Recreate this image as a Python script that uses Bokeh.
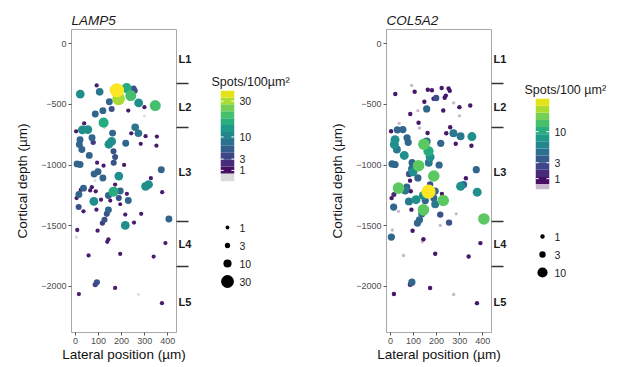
import math
import numpy as np
from bokeh.plotting import figure
from bokeh.models import (Range1d, FactorRange, LinearAxis, CategoricalAxis, FixedTicker,
                          LinearColorMapper, ColumnDataSource)
from bokeh.layouts import row, column
from bokeh.palettes import Viridis256
from bokeh.embed import file_html
from bokeh.resources import INLINE

FONT = "Liberation Sans"

# ---------------- data ----------------
lateral_um = [92, 180, 162, 187, 222, 240, 252, 257, 21, 105, 274, 346, 299, 147, 198, 235,
              229, 157, 119, 86, 299, 122, 126, 38, 3, 30, 54, 259, 273, 304, 353, 242,
              161, 72, 157, 145, 218, 283, 351, 20, 17, 28, 77, 165, 60, 172, 166, 7,
              20, 94, 122, 211, 92, 98, 188, 372, 327, 81, 119, 85, 304, 317, 172, 165,
              143, 194, 188, 223, 229, 35, 15, 23, 64, 71, 88, 5, 80, 111, 151, 194,
              14, 35, 91, 143, 136, 216, 285, 126, 117, 216, 254, 405, 8, 4, 96, 143,
              138, 390, 57, 194, 339, 93, 86, 15, 172, 274, 375, 376]
depth_um = [-343, -383, -378, -453, -365, -427, -368, -387, -414, -396, -487, -509, -522, -478, -447, -445,
            -550, -537, -551, -578, -594, -650, -694, -656, -721, -709, -707, -688, -737, -762, -765, -738,
            -736, -775, -805, -828, -820, -824, -840, -790, -830, -871, -812, -885, -920, -934, -981, -990,
            -995, -980, -1005, -999, -1030, -1055, -1090, -1038, -1108, -1073, -1106, -1128, -1175, -1160, -1160, -1219,
            -1250, -1214, -1272, -1237, -1292, -1190, -1243, -1205, -1209, -1182, -1216, -1272, -1299, -1285, -1292, -1322,
            -1346, -1381, -1367, -1369, -1402, -1408, -1402, -1451, -1478, -1497, -1474, -1444, -1535, -1593, -1541, -1612,
            -1632, -1643, -1745, -1731, -1754, -1965, -1985, -2063, -2013, -2066, -2138, -1223]
lamp5 = [1.5, 38, 4.5, 30, 17, 21, 4.5, 4.5, 12, 8.5, 12, 21, 1.5, 6.5, 4.5, 3,
         1.5, 4.5, 6.5, 6.5, 0.3, 17, 0.3, 1.5, 1.5, 12, 12, 8.5, 8.5, 1.5, 1.5, 1.5,
         6.5, 6.5, 12, 12, 6.5, 1.5, 1.5, 6.5, 6.5, 6.5, 3, 4.5, 6.5, 4.5, 4.5, 6.5,
         6.5, 1.5, 1.5, 1.5, 0.3, 6.5, 12, 6.5, 1.5, 6.5, 6.5, 0.3, 12, 12, 1.5, 17,
         6.5, 6.5, 4.5, 1.5, 6.5, 6.5, 6.5, 1.5, 1.5, 1.5, 1.5, 1.5, 12, 1.5, 1.5, 1.0,
         4.5, 1.5, 1.5, 6.5, 4.5, 1.5, 1.5, 4.5, 3, 12, 1.5, 6.5, 1.5, 0.5, 1.5, 1.5,
         1.5, 1.5, 1.5, 1.5, 1.5, 4.5, 3, 1.5, 1.5, 0.3, 1.5, 1.5]
col5a2 = [0.35, 1.0, 1.0, 1.0, 1.0, 1.0, 1.0, 1.0, 1.0, 1.0, 0.35, 1.0, 1.0, 1.0, 3.0, 1.0,
          1.0, 4.2, 0.35, 1.0, 0.35, 1.0, 0.35, 0.35, 1.0, 4.2, 4.2, 1.0, 5.4, 5.4, 7.4, 1.0,
          1.0, 4.2, 5.4, 13.7, 4.2, 1.0, 1.0, 7.4, 7.4, 5.4, 4.2, 10.2, 7.4, 7.4, 5.4, 4.2,
          4.2, 4.2, 13.7, 4.2, 4.2, 7.4, 13.7, 4.2, 1.0, 3.0, 4.2, 1.0, 7.4, 4.2, 3.0, 22,
          7.4, 4.2, 4.2, 1.0, 13.7, 13.7, 1.5, 1.0, 5.4, 4.2, 1.0, 1.0, 5.4, 7.4, 4.2, 5.4,
          4.2, 0.35, 1.0, 13.7, 4.2, 3.0, 0.35, 4.2, 4.2, 0.35, 3.0, 13.7, 0.35, 4.2, 1.0, 1.0,
          0.35, 1.0, 0.35, 1.0, 1.0, 4.2, 1.5, 1.0, 1.0, 0.35, 1.0, 7.4]

layer_names = ["L1", "L2", "L3", "L4", "L5"]
layer_label_depth = [-129, -522, -1058, -1653, -2128]
layer_boundaries = [-329, -687, -1461, -1840]

x_ticks = [0, 100, 200, 300, 400]
y_ticks = [0, -500, -1000, -1500, -2000]

lamp5_legend = [1, 3, 10, 30]
col5a2_legend = [1, 3, 10]

# colour scale limits (sqrt scale)
lamp5_scale = dict(bar_low=0.08, col_low=0.64, high=38.0, low_color="#dadada")
col5a2_scale = dict(bar_low=0.25, col_low=0.56, high=22.0, low_color="#c9b6cf")


def size_of(v, vmax):
    return 1.8 + 12.4 * np.sqrt(np.asarray(v, dtype=float) / vmax)


def make_mapper(sc):
    return LinearColorMapper(palette=Viridis256, low=math.sqrt(sc["col_low"]),
                             high=math.sqrt(sc["high"]), low_color=sc["low_color"])


def main_panel(name, values, sc):
    vals = np.asarray(values, dtype=float)
    order = np.argsort(vals, kind="stable")
    src = ColumnDataSource(dict(
        x=np.asarray(lateral_um)[order], y=np.asarray(depth_um)[order],
        s=np.sqrt(vals)[order], size=size_of(vals, sc["high"])[order]))
    mapper = make_mapper(sc)
    p = figure(width=205, height=367, x_range=Range1d(-17, 438), y_range=Range1d(-2380, 118),
               toolbar_location=None, output_backend="svg",
               min_border_left=71, min_border_right=29, min_border_top=29, min_border_bottom=35)
    p.scatter("x", "y", size="size", source=src,
              fill_color={"field": "s", "transform": mapper}, line_color=None)
    p.grid.visible = False
    p.outline_line_color = "#a8a8a8"
    p.outline_line_width = 1
    p.title.text = name
    p.title.text_font = FONT
    p.title.text_font_style = "italic"
    p.title.text_font_size = "13.5px"
    p.title.text_color = "#1a1a1a"
    p.title.standoff = 3
    p.title.align = "left"
    p.xaxis.ticker = FixedTicker(ticks=x_ticks)
    p.yaxis.ticker = FixedTicker(ticks=y_ticks)
    p.xaxis.axis_label = "Lateral position (µm)"
    p.yaxis.axis_label = "Cortical depth (µm)"
    for ax in (p.xaxis[0], p.yaxis[0]):
        ax.axis_line_color = None
        ax.major_tick_line_color = "#555555"
        ax.major_tick_out = 3
        ax.major_tick_in = 0
        ax.minor_tick_line_color = None
        ax.major_label_text_font = FONT
        ax.major_label_text_font_size = "9px"
        ax.major_label_text_color = "#4d4d4d"
        ax.major_label_standoff = 2
        ax.axis_label_text_font = FONT
        ax.axis_label_text_font_size = "13.5px"
        ax.axis_label_text_font_style = "normal"
        ax.axis_label_text_color = "#111111"
    p.xaxis.axis_label_standoff = 0
    p.yaxis.axis_label_standoff = 8
    lay = LinearAxis(
        ticker=FixedTicker(ticks=layer_label_depth, minor_ticks=layer_boundaries),
        major_label_overrides={d: n for d, n in zip(layer_label_depth, layer_names)},
        major_tick_out=0, major_tick_in=0, major_tick_line_color=None,
        minor_tick_out=12, minor_tick_in=0, minor_tick_line_color="#333333",
        minor_tick_line_width=1.5, axis_line_color=None, major_label_standoff=-10,
        major_label_text_font=FONT, major_label_text_font_style="bold",
        major_label_text_font_size="11px", major_label_text_color="#1a1a1a")
    p.add_layout(lay, "right")
    return p


def colorbar_panel(sc, legend_vals, title, width, left, frame_w, top, title_offset):
    height, frame_h = 195, 91
    s_lo, s_col, s_hi = math.sqrt(sc["bar_low"]), math.sqrt(sc["col_low"]), math.sqrt(sc["high"])
    edges = np.concatenate([[s_lo], np.linspace(s_col, s_hi, 13)])
    src = ColumnDataSource(dict(bottom=edges[:-1], top=edges[1:],
                                mid=(edges[:-1] + edges[1:]) / 2))
    cb = figure(width=width, height=height, x_range=Range1d(0, 1), y_range=Range1d(s_lo, s_hi),
                x_axis_type=None, y_axis_type=None, toolbar_location=None, output_backend="svg",
                min_border_left=left, min_border_right=width - left - frame_w,
                min_border_top=top, min_border_bottom=height - top - frame_h)
    cb.outline_line_color = None
    cb.grid.visible = False
    cb.quad(left=0, right=1, bottom="bottom", top="top", source=src,
            fill_color={"field": "mid", "transform": make_mapper(sc)}, line_color=None)
    ticks = [math.sqrt(v) for v in legend_vals]
    tsrc = ColumnDataSource(dict(t=ticks))
    cb.segment(x0=0, x1=0.22, y0="t", y1="t", source=tsrc, line_color="white", line_width=1)
    cb.segment(x0=0.78, x1=1, y0="t", y1="t", source=tsrc, line_color="white", line_width=1)
    right_ax = LinearAxis(ticker=FixedTicker(ticks=ticks),
                          major_label_overrides={t: str(v) for t, v in zip(ticks, legend_vals)},
                          major_tick_in=0, major_tick_out=0, major_tick_line_color=None,
                          minor_tick_line_color=None, axis_line_color=None,
                          major_label_standoff=5, major_label_text_font=FONT,
                          major_label_text_font_size="10.5px", major_label_text_color="#1a1a1a")
    cb.add_layout(right_ax, "right")
    cb.title.text = title
    cb.title.text_font = FONT
    cb.title.text_font_style = "normal"
    cb.title.text_font_size = "12.5px"
    cb.title.text_color = "#1a1a1a"
    cb.title.align = "left"
    cb.title.offset = title_offset
    cb.title.standoff = 4
    return cb


def size_panel(sc, legend_vals, width, top):
    height, left, frame_w = 172, 15, 14
    frame_h = 18 * len(legend_vals)
    factors = [str(v) for v in reversed(legend_vals)]
    sz = figure(width=width, height=height, x_range=Range1d(0, 1), y_range=FactorRange(factors=factors),
                x_axis_type=None, y_axis_type=None, toolbar_location=None, output_backend="svg",
                min_border_left=left, min_border_right=width - left - frame_w,
                min_border_top=top, min_border_bottom=height - top - frame_h)
    sz.outline_line_color = None
    sz.grid.visible = False
    sz.scatter(x=[0.5] * len(legend_vals), y=[str(v) for v in legend_vals],
               size=size_of(legend_vals, sc["high"]), fill_color="black", line_color=None)
    ax = CategoricalAxis(major_tick_out=0, major_tick_in=0, major_tick_line_color=None,
                         axis_line_color=None, major_label_standoff=5,
                         major_label_text_font=FONT, major_label_text_font_size="10.5px",
                         major_label_text_color="#1a1a1a")
    sz.add_layout(ax, "right")
    return sz


pL = main_panel("LAMP5", lamp5, lamp5_scale)
cbL = colorbar_panel(lamp5_scale, lamp5_legend, "Spots/100µm²", 110, 13, 19, 90, -9)
szL = size_panel(lamp5_scale, lamp5_legend, 110, 23)

pR = main_panel("COL5A2", col5a2, col5a2_scale)
cbR = colorbar_panel(col5a2_scale, col5a2_legend, "Spots/100 µm²", 103, 13, 18, 98, -11)
szR = size_panel(col5a2_scale, col5a2_legend, 103, 32)

layout = row(pL, column(cbL, szL), pR, column(cbR, szR))

open("out.html", "w").write(file_html(layout, INLINE))
